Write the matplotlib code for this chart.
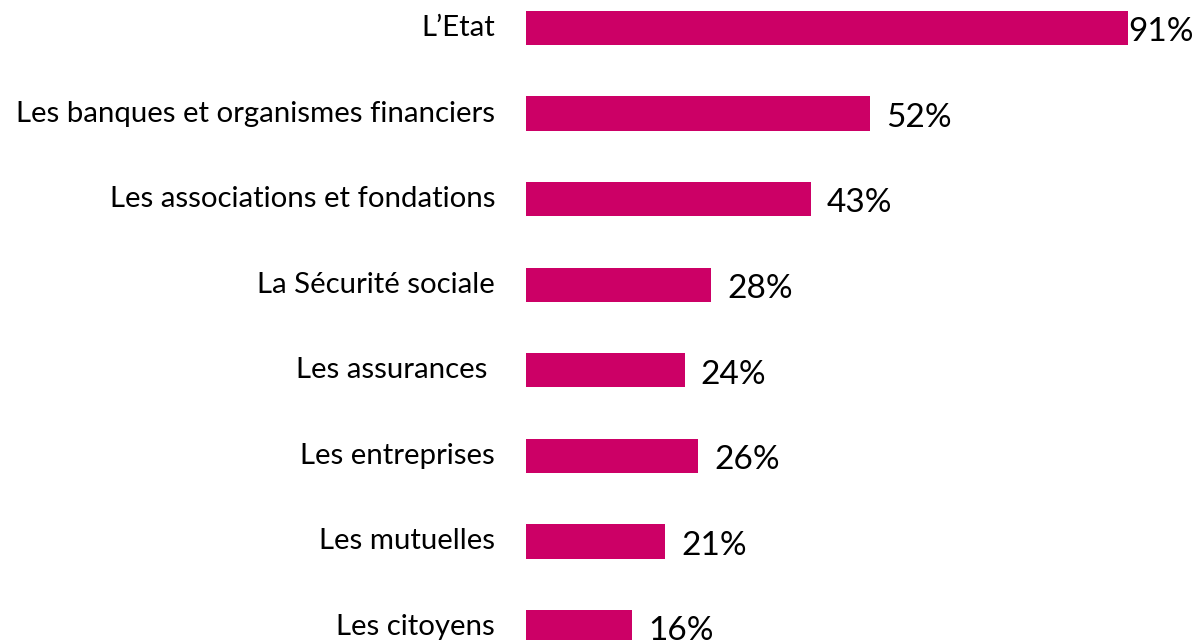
import matplotlib
matplotlib.use("Agg")
import matplotlib.pyplot as plt

categories = [
    "L\u2019Etat",
    "Les banques et organismes financiers",
    "Les associations et fondations",
    "La S\u00e9curit\u00e9 sociale",
    "Les assurances ",
    "Les entreprises",
    "Les mutuelles",
    "Les citoyens",
]
values = [91, 52, 43, 28, 24, 26, 21, 16]
value_labels = ["91%", "52%", "43%", "28%", "24%", "26%", "21%", "16%"]

color = "#CC0066"
plt.rcParams["font.family"] = ["Lato", "DejaVu Sans"]

fig = plt.figure(figsize=(11.93, 6.4), dpi=100)
ax = fig.add_axes([526 / 1193, 0, 1 - 526 / 1193, 1])
ax.set_axis_off()

pos = list(range(len(categories)))
ax.barh(pos, values, height=0.4, color=color)
ax.set_xlim(0, 100.8)
ax.set_ylim(7.152, -0.327)

px = 100.8 / 667  # data units per pixel
for i, (v, lab, cat) in enumerate(zip(values, value_labels, categories)):
    off = 0 if v == max(values) else 16 * px
    ax.text(v + off, i + 0.05, lab, ha="left", va="center", fontsize=24, color="black")
    ax.text(-31 * px, i, cat, ha="right", va="center", fontsize=21.2, color="black")

fig.savefig("out.png", dpi=100)
